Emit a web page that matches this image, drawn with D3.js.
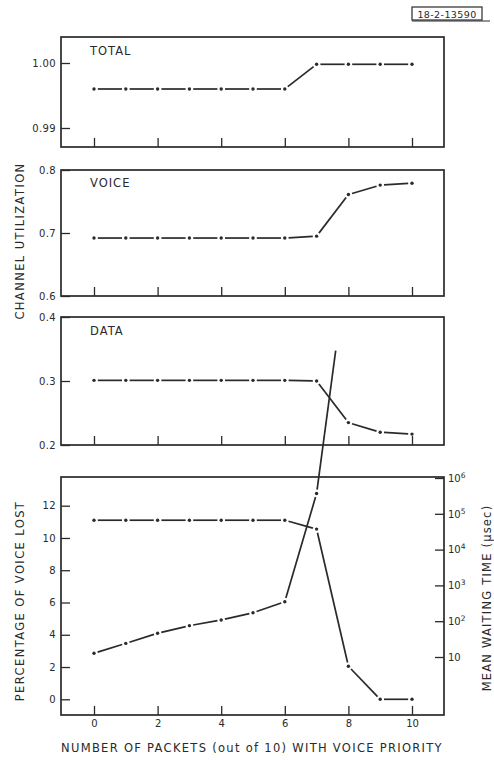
<!DOCTYPE html>
<html><head><meta charset="utf-8">
<script src="https://cdn.jsdelivr.net/npm/d3@7"></script>
<style>
body{margin:0;background:#fff}
text{font-family:"DejaVu Sans",sans-serif;fill:#2a2a2a}
</style></head>
<body><svg id="c" width="494" height="760"></svg>
<script>
// ---- data ----
const packets = [0,1,2,3,4,5,6,7,8,9,10];
const totalUtil = [0.996,0.996,0.996,0.996,0.996,0.996,0.996,0.9998,0.9998,0.9998,0.9998];
const voiceUtil = [0.692,0.692,0.692,0.692,0.692,0.692,0.692,0.695,0.761,0.776,0.779];
const dataUtil  = [0.301,0.301,0.301,0.301,0.301,0.301,0.301,0.300,0.235,0.220,0.217];
const voiceLostPct = [11.1,11.1,11.1,11.1,11.1,11.1,11.1,10.55,2.05,0,0];
const waitPackets = [0,1,2,3,4,5,6,7];
const waitTimeUsec = [12.7,24,46,75,108,172,350,3.7e5];
const waitOffscalePacket = 7.6, waitOffscaleUsec = 3.6e9;   // curve leaves the panel upward
const xTicks = [0,2,4,6,8,10];
const totalTicks = [0.99,1.00], voiceTicks = [0.6,0.7,0.8], dataTicks = [0.2,0.3,0.4];
const lostTicks = [0,2,4,6,8,10,12];
const waitTicks = [10,1e2,1e3,1e4,1e5,1e6];

const svg = d3.select("#c");
const ink = "#2a2a2a";
const L = 61, R = 444;
const x = d3.scaleLinear().domain([0,10]).range([94,412]);

function frame(top,bottom){
  svg.append("rect").attr("x",L).attr("y",top).attr("width",R-L).attr("height",bottom-top)
    .attr("fill","none").attr("stroke",ink).attr("stroke-width",1.7);
}
function xAxis(bottom,labels){
  const g = svg.append("g").attr("transform",`translate(0,${bottom})`)
    .call(d3.axisBottom(x).tickValues(xTicks).tickSize(-9).tickPadding(5).tickFormat(labels?d3.format("d"):""));
  g.select(".domain").remove();
  g.selectAll("line").attr("stroke",ink).attr("stroke-width",1.3);
  g.selectAll("text").attr("font-size",10).attr("fill",ink).style("font-family","DejaVu Sans");
}
function yAxis(scale,ticks,fmt){
  const g = svg.append("g").attr("transform",`translate(${L},0)`)
    .call(d3.axisLeft(scale).tickValues(ticks).tickSize(-9).tickPadding(5).tickFormat(fmt));
  g.select(".domain").remove();
  g.selectAll("line").attr("stroke",ink).attr("stroke-width",1.3);
  g.selectAll("text").attr("font-size",10).attr("letter-spacing",0.4).attr("fill",ink).style("font-family","DejaVu Sans");
}
function dashDot(xs,ys,xsc,ysc,opts={}){
  const pts = xs.map((v,i)=>[xsc(v),ysc(ys[i])]);
  const gap = 3.8;
  for(let i=0;i<pts.length-1;i++){
    const [x1,y1]=pts[i],[x2,y2]=pts[i+1];
    const d=Math.hypot(x2-x1,y2-y1), ux=(x2-x1)/d, uy=(y2-y1)/d;
    const endGap = (opts.noEndDot && i===pts.length-2) ? 0 : gap;
    svg.append("line").attr("x1",x1+ux*gap).attr("y1",y1+uy*gap)
      .attr("x2",x2-ux*endGap).attr("y2",y2-uy*endGap)
      .attr("stroke",ink).attr("stroke-width",1.7);
  }
  const dotPts = opts.noEndDot ? pts.slice(0,-1) : pts;
  svg.selectAll(null).data(dotPts).enter().append("circle")
    .attr("cx",d=>d[0]).attr("cy",d=>d[1]).attr("r",1.7).attr("fill",ink);
}
function title(txt,tx,ty){
  svg.append("text").attr("x",tx).attr("y",ty).attr("font-size",11.5).attr("letter-spacing",1).text(txt);
}

// ---- panel 1: TOTAL ----
const y1 = d3.scaleLinear().domain([0.99,1.00]).range([128,63]);
frame(37,147); xAxis(147,false); yAxis(y1,totalTicks,d3.format(".2f"));
title("TOTAL",90,55);
dashDot(packets,totalUtil,x,y1);

// ---- panel 2: VOICE ----
const y2 = d3.scaleLinear().domain([0.6,0.8]).range([296,170]);
frame(170,296); xAxis(296,false); yAxis(y2,voiceTicks,d3.format(".1f"));
title("VOICE",90,187);
dashDot(packets,voiceUtil,x,y2);

// ---- panel 3: DATA ----
const y3 = d3.scaleLinear().domain([0.2,0.4]).range([445,317]);
frame(317,445); xAxis(445,false); yAxis(y3,dataTicks,d3.format(".1f"));
title("DATA",90,335);
dashDot(packets,dataUtil,x,y3);

// ---- panel 4: voice lost + waiting time ----
const y4 = d3.scaleLinear().domain([0,12]).range([699.3,505.7]);
const y4r = d3.scaleLog().domain([10,1e6]).range([657,478]);
frame(477,715); xAxis(715,true); yAxis(y4,lostTicks,d3.format("d"));
{
  const g = svg.append("g").attr("transform",`translate(${R},0)`)
    .call(d3.axisRight(y4r).tickValues(waitTicks).tickSize(-9).tickPadding(4).tickFormat(()=>""));
  g.select(".domain").remove();
  g.selectAll("line").attr("stroke",ink).attr("stroke-width",1.3);
  g.selectAll(".tick text").each(function(d){
    const t = d3.select(this).attr("font-size",10).attr("fill",ink).style("font-family","DejaVu Sans");
    const e = Math.round(Math.log10(d));
    t.append("tspan").text("10");
    if(e>1) t.append("tspan").attr("dy",-4).attr("font-size",7.5).text(e);
  });
}
dashDot(packets,voiceLostPct,x,y4);
dashDot(waitPackets.concat([waitOffscalePacket]),waitTimeUsec.concat([waitOffscaleUsec]),x,y4r,{noEndDot:true});

// ---- axis titles ----
svg.append("text").attr("transform","translate(24,241) rotate(-90)").attr("text-anchor","middle")
  .attr("font-size",11.5).attr("letter-spacing",1.4).text("CHANNEL UTILIZATION");
svg.append("text").attr("transform","translate(24,601) rotate(-90)").attr("text-anchor","middle")
  .attr("font-size",11.5).attr("letter-spacing",1.4).text("PERCENTAGE OF VOICE LOST");
svg.append("text").attr("transform","translate(491,598) rotate(-90)").attr("text-anchor","middle")
  .attr("font-size",11.5).attr("letter-spacing",1.2).text("MEAN WAITING TIME (\u03bcsec)");
svg.append("text").attr("x",252).attr("y",752).attr("text-anchor","middle")
  .attr("font-size",11.5).attr("letter-spacing",1.3).text("NUMBER OF PACKETS (out of 10) WITH VOICE PRIORITY");

// ---- figure id box ----
svg.append("rect").attr("x",412).attr("y",7).attr("width",70).attr("height",13)
  .attr("fill","none").attr("stroke",ink).attr("stroke-width",1.2);
svg.append("line").attr("x1",412).attr("x2",490).attr("y1",21).attr("y2",21).attr("stroke",ink).attr("stroke-width",1.2);
svg.append("text").attr("x",447).attr("y",17.5).attr("text-anchor","middle").attr("font-size",9.5).attr("letter-spacing",0.4).text("18-2-13590");
</script></body></html>
